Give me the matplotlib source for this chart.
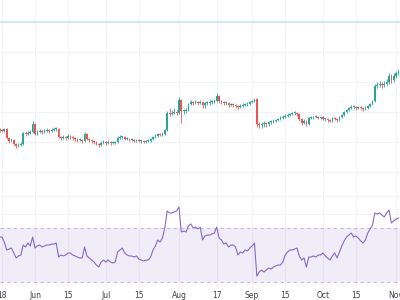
import matplotlib
matplotlib.use("Agg")
import matplotlib.pyplot as plt
import numpy as np
import pandas as pd

START = "2023-05-17"

closes = [
    70, 69, 71, 62, 59, 60, 56, 54, 55, 56,
    67, 66, 67, 68, 76, 66, 68, 69, 68, 69,
    70, 69, 70, 71, 71, 63, 62, 63, 62, 64,
    63, 62, 61, 60, 60, 59, 66, 61, 60, 59,
    58, 56, 55, 57, 58, 57, 58, 57, 57, 58,
    62, 63, 63, 61, 61, 60, 60, 59, 60, 59,
    59, 58, 59, 59, 61, 63, 64, 66, 65, 66,
    70, 87, 86, 87, 88, 87, 100, 89, 89, 90,
    96, 98, 97, 98, 97, 98, 95, 97, 97, 98,
    98, 99, 104, 99, 98, 97, 97, 95, 96, 95,
    94, 93, 94, 95, 96, 96, 98, 99, 101, 76,
    75, 76, 77, 76, 78, 78, 79, 80, 81, 82,
    83, 84, 85, 86, 87, 87, 86, 81, 77, 79,
    76, 82, 82, 83, 83, 82, 83, 81, 81, 80,
    79, 82, 81, 80, 83, 85, 88, 90, 92, 93,
    93, 92, 93, 92, 91, 92, 94, 96, 99, 114,
    115, 116, 115, 116, 118, 124, 120, 124, 127, 128,
]
highs = [
    72, 71, 72, 72, 63, 62, 61, 57, 57, 58,
    68, 69, 69, 70, 79, 77, 70, 71, 70, 71,
    72, 71, 72, 73, 73, 72, 64, 65, 64, 66,
    65, 64, 63, 62, 62, 61, 68, 67, 62, 61,
    60, 59, 57, 59, 60, 59, 60, 59, 59, 59,
    64, 65, 64, 64, 63, 62, 62, 61, 61, 61,
    60, 60, 60, 61, 62, 64, 66, 67, 67, 68,
    71, 89, 92, 90, 92, 90, 103, 101, 91, 92,
    97, 100, 99, 100, 99, 100, 99, 98, 99, 100,
    100, 101, 107, 105, 100, 99, 98, 98, 97, 97,
    96, 95, 96, 97, 97, 98, 99, 100, 102, 102,
    78, 78, 79, 78, 79, 80, 81, 81, 82, 84,
    85, 86, 87, 87, 88, 89, 88, 87, 82, 81,
    80, 83, 84, 84, 85, 84, 84, 84, 82, 82,
    81, 83, 83, 82, 84, 86, 89, 91, 93, 95,
    95, 94, 94, 94, 93, 94, 95, 97, 100, 116,
    118, 119, 118, 119, 121, 127, 126, 127, 129, 131,
]
lows = [
    68, 68, 68, 61, 57, 58, 55, 52, 53, 54,
    55, 64, 65, 66, 67, 65, 65, 67, 66, 67,
    68, 67, 68, 69, 69, 62, 60, 61, 60, 61,
    61, 60, 59, 58, 59, 57, 58, 60, 58, 57,
    56, 55, 53, 54, 56, 55, 56, 55, 56, 56,
    57, 61, 61, 60, 60, 59, 59, 58, 58, 58,
    57, 57, 57, 58, 58, 60, 62, 63, 64, 64,
    65, 69, 84, 85, 86, 85, 86, 77, 86, 87,
    89, 95, 95, 96, 95, 96, 92, 92, 95, 95,
    96, 97, 98, 97, 96, 95, 95, 93, 94, 93,
    92, 91, 92, 93, 94, 94, 95, 97, 98, 73,
    72, 72, 73, 73, 74, 76, 77, 78, 79, 80,
    81, 82, 83, 84, 85, 85, 84, 79, 75, 76,
    74, 75, 81, 81, 82, 81, 81, 80, 79, 78,
    78, 78, 80, 78, 79, 82, 84, 87, 89, 91,
    91, 90, 91, 90, 89, 90, 91, 93, 95, 98,
    112, 113, 112, 113, 115, 116, 117, 118, 122, 125,
]
rsi = [
    63.3, 63.3, 59.6, 53.7, 54.4, 55.2, 51.5, 47.8, 49.3, 50.0,
    57.4, 55.9, 58.9, 56.7, 63.3, 55.2, 56.7, 57.4, 55.9, 56.7,
    57.4, 57.4, 58.1, 58.1, 58.9, 48.5, 50.0, 49.3, 50.0, 51.5,
    51.5, 50.0, 49.3, 48.5, 47.8, 47.8, 55.9, 49.3, 47.8, 46.3,
    44.8, 42.6, 41.1, 44.8, 46.3, 44.8, 46.3, 44.8, 44.1, 44.8,
    52.2, 53.7, 55.2, 51.5, 50.0, 49.3, 49.3, 48.5, 49.3, 47.0,
    46.3, 45.6, 46.3, 46.3, 48.5, 53.7, 56.7, 61.1, 59.6, 62.6,
    70.0, 82.6, 81.1, 81.1, 81.9, 82.6, 85.6, 67.0, 67.8, 67.0,
    71.5, 73.0, 70.0, 70.7, 69.3, 70.7, 61.1, 64.1, 64.8, 64.8,
    65.6, 66.3, 70.7, 62.6, 61.1, 58.1, 58.9, 55.9, 57.4, 57.4,
    55.9, 50.0, 52.2, 51.5, 53.7, 53.0, 55.2, 56.7, 58.9, 34.4,
    37.4, 38.9, 37.4, 38.9, 40.4, 39.6, 41.1, 41.9, 42.6, 42.6,
    44.8, 50.0, 52.2, 53.7, 53.7, 54.4, 55.2, 49.3, 46.3, 47.8,
    41.1, 48.5, 48.5, 49.3, 48.5, 50.0, 50.0, 51.5, 49.3, 47.8,
    46.3, 49.3, 51.5, 47.8, 52.2, 56.7, 60.4, 63.3, 64.8, 66.3,
    63.3, 64.1, 62.6, 60.4, 58.9, 61.1, 66.3, 69.3, 72.2, 81.1,
    80.4, 81.1, 79.6, 78.1, 81.1, 83.3, 73.7, 75.2, 76.7, 77.4,
]
tick_dates = ["2023-05-18", "2023-06-01", "2023-06-15", "2023-07-01",
              "2023-07-15", "2023-08-01", "2023-08-17", "2023-09-01",
              "2023-09-15", "2023-10-01", "2023-10-15", "2023-11-01"]
tick_labels = ["18", "Jun", "15", "Jul", "15", "Aug", "17", "Sep",
               "15", "Oct", "15", "Nov"]
top_level = 178

UP, DOWN = "#26a69a", "#ef5350"
GRID_C = "#f0f3fa"

start = pd.Timestamp(START)
days = np.arange(len(closes))
c = np.array(closes, dtype=float)
o = np.concatenate([[71.0], c[:-1]])
h = np.array(highs, dtype=float)
l = np.array(lows, dtype=float)
colors = np.where(c >= o, UP, DOWN)
ticks = [(pd.Timestamp(d) - start).days for d in tick_dates]

fig = plt.figure(figsize=(4, 3), dpi=100)
ax = fig.add_axes([0, 1 - 190 / 300, 1, 190 / 300])
ax_rsi = fig.add_axes([0, 12 / 300, 1, 98 / 300], sharex=ax)

for a in (ax, ax_rsi):
    for s in a.spines.values():
        s.set_visible(False)
    a.set_xticks(ticks)
    a.grid(True, color=GRID_C, linewidth=0.8)
    a.set_axisbelow(True)
    a.tick_params(left=False, labelleft=False, length=0)

ax.tick_params(labelbottom=False)
ax.axhline(top_level, color="#c7e6e6", linewidth=1.2)
ax.vlines(days, l, h, colors=list(colors), linewidth=0.6)
body = np.maximum(np.abs(c - o), 0.8)
ax.bar(days, body, bottom=np.minimum(o, c), width=0.72, color=colors, linewidth=0)
ax.set_ylim(10, 200)
ax.set_yticks([28, 58, 88, 118, 148])

ax_rsi.axhspan(30, 70, color="#7e57c2", alpha=0.1, linewidth=0)
ax_rsi.axhline(70, color="#c8b6e2", linestyle=(0, (3, 3)), linewidth=0.8)
ax_rsi.axhline(30, color="#c8b6e2", linestyle=(0, (3, 3)), linewidth=0.8)
ax_rsi.plot(days, rsi, color="#8a68c6", linewidth=0.8)
ax_rsi.set_ylim(25.6, 98.1)
ax_rsi.set_yticks([80, 94])
ax_rsi.set_xticklabels(tick_labels, fontsize=5.5, color="#3b3f4a")
ax_rsi.tick_params(axis="x", pad=2.5)
ax_rsi.set_xlim(0.17, 169.66)

fig.savefig("out.png", dpi=100, facecolor="white")
